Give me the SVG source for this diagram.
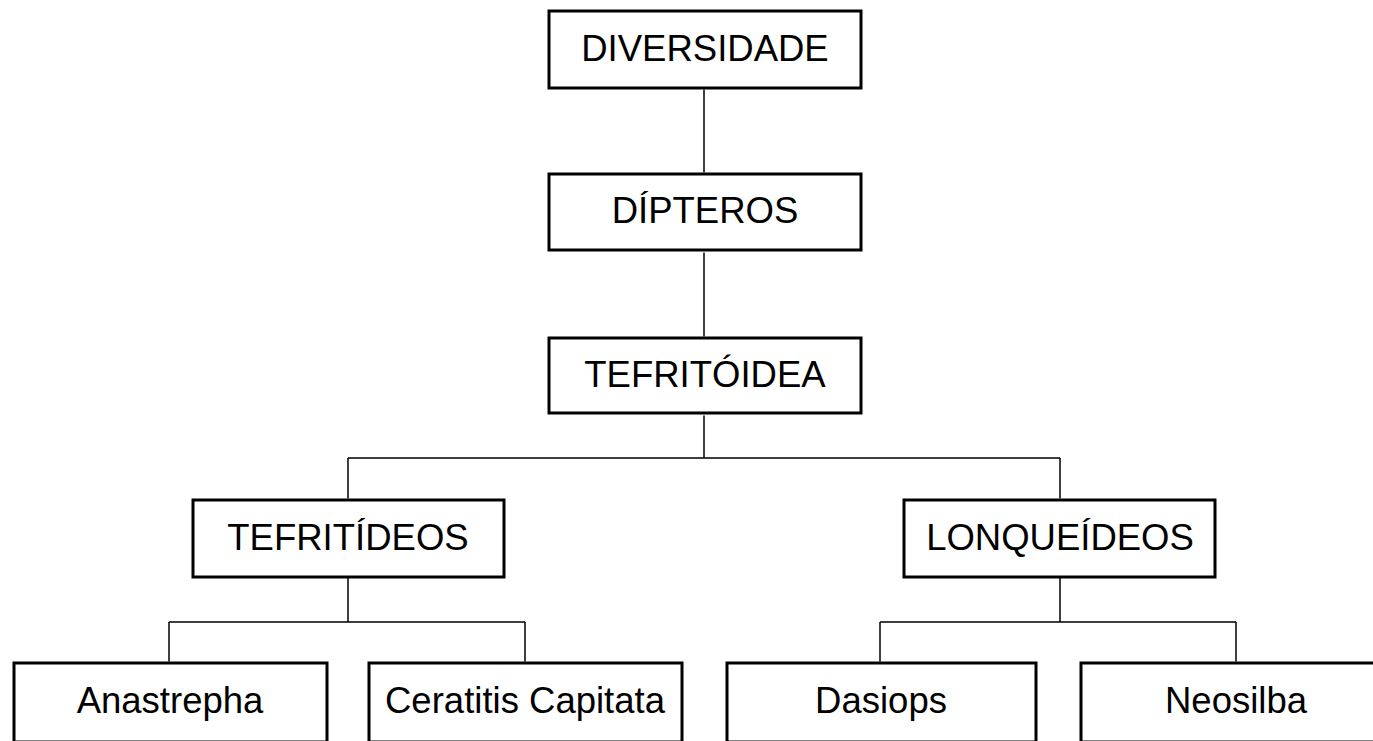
<svg xmlns="http://www.w3.org/2000/svg" width="1373" height="741" viewBox="0 0 1373 741">
<style>
.box{fill:#fff;stroke:#000;stroke-width:3}
.lbl{font-family:"Liberation Sans",Arial,sans-serif;font-size:36.5px;fill:#000;text-anchor:middle}
.con{fill:none;stroke:#000;stroke-width:1.5}
</style>
<rect width="1373" height="741" fill="#fff"/>
<g id="connectors">
<path class="con" d="M704 89.5V172.5M704 252.5V336.5M704 415.5V458M348 458H1060M348 458V498.5M1060 458V498.5"/>
<path class="con" d="M348 578V622M169 622H525M169 622V661.5M525 622V661.5"/>
<path class="con" d="M1060 578V622M880 622H1236M880 622V661.5M1236 622V661.5"/>
</g>
<g id="diversidade"><rect class="box" x="549" y="11" width="312" height="77"/><text class="lbl" x="705" y="61">DIVERSIDADE</text></g>
<g id="dipteros"><rect class="box" x="549" y="174" width="312" height="76"/><text class="lbl" x="705" y="223">DÍPTEROS</text></g>
<g id="tefritoidea"><rect class="box" x="549" y="338" width="312" height="75"/><text class="lbl" x="705" y="387">TEFRITÓIDEA</text></g>
<g id="tefritideos"><rect class="box" x="193" y="500" width="311" height="77"/><text class="lbl" x="348" y="550">TEFRITÍDEOS</text></g>
<g id="lonqueideos"><rect class="box" x="904" y="500" width="311" height="77"/><text class="lbl" x="1060" y="550">LONQUEÍDEOS</text></g>
<g id="anastrepha"><rect class="box" x="14" y="663" width="313" height="79"/><text class="lbl" x="170" y="713">Anastrepha</text></g>
<g id="ceratitis"><rect class="box" x="369" y="663" width="313" height="79"/><text class="lbl" x="525" y="713">Ceratitis Capitata</text></g>
<g id="dasiops"><rect class="box" x="727" y="663" width="309" height="79"/><text class="lbl" x="881" y="713">Dasiops</text></g>
<g id="neosilba"><rect class="box" x="1081" y="663" width="313" height="79"/><text class="lbl" x="1236" y="713">Neosilba</text></g>
</svg>
